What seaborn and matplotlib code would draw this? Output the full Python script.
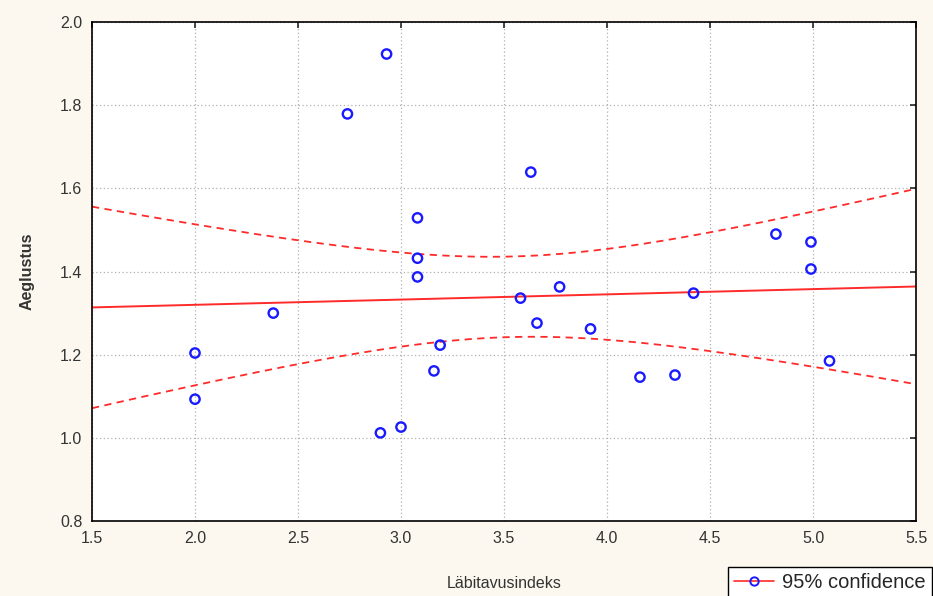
import numpy as np
import pandas as pd
import matplotlib
matplotlib.use("Agg")
import matplotlib.pyplot as plt
import seaborn as sns
from matplotlib.lines import Line2D

# data
labitavus = [2.00, 2.00, 2.38, 2.74, 2.93, 2.90, 3.00, 3.08, 3.08, 3.08, 3.19, 3.16,
             3.58, 3.63, 3.66, 3.77, 3.92, 4.16, 4.33, 4.42, 4.82, 4.99, 4.99, 5.08]
aeglustus = [1.204, 1.093, 1.300, 1.779, 1.923, 1.012, 1.026, 1.529, 1.432, 1.387, 1.223, 1.161,
             1.336, 1.639, 1.276, 1.363, 1.262, 1.146, 1.151, 1.348, 1.490, 1.471, 1.406, 1.185]
x_ticks = [1.5, 2.0, 2.5, 3.0, 3.5, 4.0, 4.5, 5.0, 5.5]
y_ticks = [0.8, 1.0, 1.2, 1.4, 1.6, 1.8, 2.0]

df = pd.DataFrame({"x": labitavus, "y": aeglustus})

# least squares fit with 95% confidence band
x = df["x"].to_numpy()
y = df["y"].to_numpy()
n = len(x)
b1, b0 = np.polyfit(x, y, 1)
resid = y - (b0 + b1 * x)
s = np.sqrt(np.sum(resid ** 2) / (n - 2))
sxx = np.sum((x - x.mean()) ** 2)
t = 2.074  # t(0.975, df=22)
grid = np.linspace(1.5, 5.5, 200)
fit = b0 + b1 * grid
half = t * s * np.sqrt(1 / n + (grid - x.mean()) ** 2 / sxx)
band = pd.DataFrame({"x": grid, "fit": fit, "lo": fit - half, "hi": fit + half})

sns.set_style("white")
plt.rcParams["font.family"] = ["Liberation Sans", "DejaVu Sans"]

fig = plt.figure(figsize=(9.33, 5.96), dpi=100, facecolor="#fdf8ef")
ax = fig.add_axes([0.0986, 0.1258, 0.8832, 0.8373])
ax.set_facecolor("white")

sns.lineplot(data=band, x="x", y="fit", ax=ax, color="#ff2a2a", lw=1.4)
sns.lineplot(data=band, x="x", y="hi", ax=ax, color="#ff2a2a", lw=1.3, linestyle=(0, (4, 3)))
sns.lineplot(data=band, x="x", y="lo", ax=ax, color="#ff2a2a", lw=1.3, linestyle=(0, (4, 3)))
sns.scatterplot(data=df, x="x", y="y", ax=ax, marker="o", s=45,
                facecolor="none", edgecolor="#1a1aff", linewidth=1.7, zorder=5)

ax.set_xlim(1.5, 5.5)
ax.set_ylim(0.8, 2.0)
ax.set_xticks(x_ticks)
ax.set_yticks(y_ticks)
ax.set_xticklabels([f"{v:.1f}" for v in x_ticks])
ax.set_yticklabels([f"{v:.1f}" for v in y_ticks])
ax.grid(True, color="#b0b0b0", linestyle=(0, (1, 2)), lw=0.9)
ax.tick_params(direction="in", length=4, width=1.2, top=True, right=True,
               labelsize=11.5, labelcolor="#333333", pad=7)
for sp in ax.spines.values():
    sp.set_color("black")
    sp.set_linewidth(1.2)

ax.set_xlabel("Läbitavusindeks", fontsize=11.5, color="#333333", labelpad=22)
ax.set_ylabel("Aeglustus", fontsize=11.5, color="#333333", fontweight="bold", labelpad=18)

handle = Line2D([0], [0], color="#ff2a2a", lw=1.2, marker="o", markersize=6,
                markerfacecolor="none", markeredgecolor="#1a1aff", markeredgewidth=1.4)
fig.legend([handle], ["95% confidence"], loc="upper left", bbox_to_anchor=(0.780, 0.049),
           borderaxespad=0, frameon=True, fancybox=False, edgecolor="black", fontsize=14.5,
           handlelength=2.0, handletextpad=0.4, borderpad=0.3, framealpha=1,
           facecolor="white")

fig.savefig("out.png", dpi=100, facecolor=fig.get_facecolor())
